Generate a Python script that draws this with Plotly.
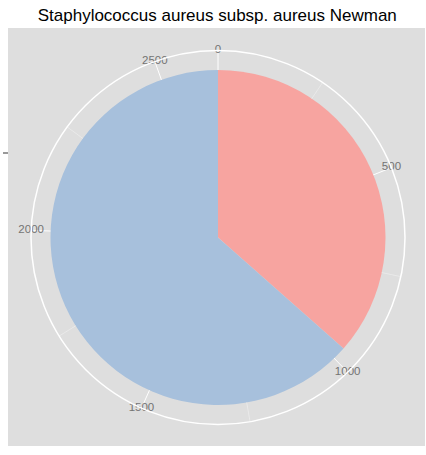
#pie chart in ggplot2 coord_polar style, rebuilt with plotly barpolar
import plotly.graph_objects as go

groups = ['A', 'B']
counts = [966, 1679]
slice_colors = ['#F7A4A0', '#A7C0DC']
tick_values = [0, 500, 1000, 1500, 2000, 2500]
tick_labels = ['0', '500', '1000', '1500', '2000', '2500']
minor_values = [250, 750, 1250, 1750, 2250]
title_text = 'Staphylococcus aureus subsp. aureus Newman'

total = sum(counts)
to_deg = lambda v: v / total * 360.0

#slice start/centre/width in degrees
starts = []
run = 0
for c in counts:
    starts.append(run)
    run += c
centres = [to_deg(s + c / 2) for s, c in zip(starts, counts)]
widths = [to_deg(c) for c in counts]

r_outer = 1.1164
bg = '#DEDEDE'

fig = go.Figure()
fig.add_trace(go.Barpolar(
    r=[1] * len(counts), theta=centres, width=widths,
    marker=dict(color=slice_colors, line=dict(width=0)),
    hoverinfo='skip', showlegend=False
))

#minor spokes between the pie and the outer ring
mr, mt = [], []
for v in minor_values:
    mr += [1, r_outer, None]
    mt += [to_deg(v), to_deg(v), None]
fig.add_trace(go.Scatterpolar(
    r=mr, theta=mt, mode='lines',
    line=dict(color='#EEEEEE', width=0.7),
    hoverinfo='skip', showlegend=False
))

#theta labels sit on the outer ring like ggplot
fig.add_trace(go.Scatterpolar(
    r=[r_outer] * len(tick_values), theta=[to_deg(v) for v in tick_values],
    mode='text', text=tick_labels, textposition='middle center',
    textfont=dict(color='#737373', size=11.5, family='Liberation Sans, Arial'),
    cliponaxis=False, hoverinfo='skip', showlegend=False
))

fig.update_layout(
    width=426, height=455,
    margin=dict(l=0, r=0, t=0, b=0),
    paper_bgcolor='white',
    title=dict(text=title_text, x=0.51, xanchor='center', y=1 - 15 / 455, yanchor='middle',
               font=dict(size=17, color='black', family='Liberation Sans, Arial')),
    polar=dict(
        domain=dict(x=[31 / 426, 405 / 426], y=[1 - 424.5 / 455, 1 - 50.5 / 455]),
        bgcolor=bg,
        bargap=0,
        radialaxis=dict(range=[0, r_outer], visible=False, showgrid=False),
        angularaxis=dict(
            rotation=90, direction='clockwise', thetaunit='degrees',
            tickvals=[to_deg(v) for v in tick_values], showticklabels=False, ticks='',
            showgrid=True, gridcolor='white', gridwidth=1,
            showline=True, linecolor='white', linewidth=1.5
        )
    ),
    shapes=[
        dict(type='rect', xref='paper', yref='paper', layer='below',
             x0=8 / 426, x1=425 / 426, y0=1 - 446 / 455, y1=1 - 28 / 455,
             fillcolor=bg, line=dict(width=0)),
        dict(type='line', xref='paper', yref='paper',
             x0=3 / 426, x1=8 / 426, y0=1 - 153 / 455, y1=1 - 153 / 455,
             line=dict(color='#555555', width=1.2))
    ]
)

#drop the default body margin so the figure sits at the window's corner
fig.write_html("out.html", config={'displayModeBar': False},
               post_script="document.body.style.margin='0';")
